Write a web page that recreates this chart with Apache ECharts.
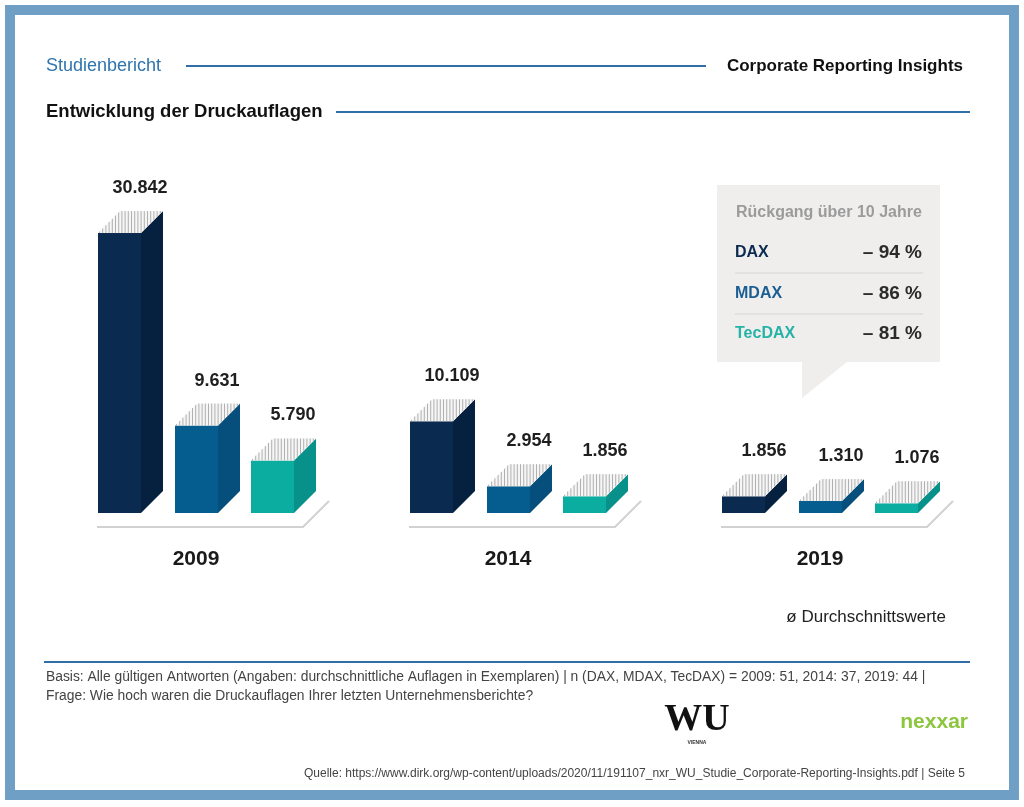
<!DOCTYPE html>
<html>
<head>
<meta charset="utf-8">
<script src="https://cdn.jsdelivr.net/npm/echarts@6/dist/echarts.min.js"></script>
<style>
html,body{margin:0;padding:0;background:#fff;}
#chart{width:1024px;height:807px;}
</style>
</head>
<body>
<div id="chart"></div>
<script>
// ---- data ----
const categories = ['2009', '2014', '2019'];
const DAX = [30842, 10109, 1856];
const MDAX = [9631, 2954, 1310];
const TecDAX = [5790, 1856, 1076];
const seriesNames = ['DAX', 'MDAX', 'TecDAX'];
const declineValues = [-94, -86, -81];
const declineTitle = 'Rückgang über 10 Jahre';

// ---- styles ----
const FONT = "'Liberation Sans', Arial, Helvetica, sans-serif";
const faceColors = ['#0b2a4f', '#055c8e', '#0aada0'];
const sideColors = ['#05213f', '#064f7c', '#08918a'];
const labelColors = ['#0b2a4f', '#1b5e93', '#25b3a6'];
const BAR_W = 43, DEPTH = 22;
const OFFSETS = [-98, -21, 55];

function fmt(v) { return String(v).replace(/\B(?=(\d{3})+(?!\d))/g, '.'); }

function makeBarRenderer(si) {
  return function (params, api) {
    const cat = api.value(0), val = api.value(1);
    const base = api.coord([cat, 0]);
    const top = api.coord([cat, val]);
    const x0 = base[0] + OFFSETS[si], x1 = x0 + BAR_W;
    const yB = base[1], yT = top[1], D = DEPTH;
    const children = [];
    children.push({ type: 'rect', shape: { x: x0, y: yT, width: BAR_W, height: yB - yT }, style: { fill: faceColors[si] } });
    children.push({ type: 'polygon', shape: { points: [[x1, yT], [x1 + D, yT - D], [x1 + D, yB - D], [x1, yB]] }, style: { fill: sideColors[si] } });
    children.push({ type: 'polygon', shape: { points: [[x0, yT], [x1, yT], [x1 + D, yT - D], [x0 + D, yT - D]] }, style: { fill: '#f6f6f6' } });
    for (let x = x0 + 1.5; x < x1 + D - 0.5; x += 3.2) {
      const yLow = x <= x1 ? yT : yT - (x - x1);
      const yHigh = x >= x0 + D ? yT - D : yT - (x - x0);
      if (yLow - yHigh > 0.6) {
        children.push({ type: 'line', shape: { x1: x, y1: yLow, x2: x, y2: yHigh }, style: { stroke: '#b0b0b0', lineWidth: 1 } });
      }
    }
    children.push({ type: 'text', style: { text: fmt(val), x: x0 + 42, y: yT - D - 23, fill: '#1f1f1f', font: 'bold 18px ' + FONT, align: 'center', textAlign: 'center', verticalAlign: 'middle', textVerticalAlign: 'middle' } });
    return { type: 'group', children: children };
  };
}

function floorRenderer(params, api) {
  const base = api.coord([api.value(0), 0]);
  const cx = base[0], y = base[1] + 14;
  return { type: 'polyline', shape: { points: [[cx - 99, y], [cx + 107, y], [cx + 133, y - 26]] }, style: { stroke: '#d2d2d2', lineWidth: 2, fill: null } };
}

const barData = [DAX, MDAX, TecDAX];
const series = [{
  type: 'custom', name: 'floor', renderItem: floorRenderer, z: 1,
  data: categories.map((c, i) => [i, 0]), encode: { x: 0, y: 1 }, silent: true
}];
barData.forEach((arr, si) => {
  series.push({
    type: 'custom', name: seriesNames[si], renderItem: makeBarRenderer(si), z: 2,
    data: arr.map((v, i) => [i, v]), encode: { x: 0, y: 1 }
  });
});

// ---- callout ----
const BX = 717, BY = 185, BW = 223, BH = 177;
const callout = [
  { type: 'polygon', shape: { points: [[BX, BY], [BX + BW, BY], [BX + BW, BY + BH], [847, BY + BH], [802, 398], [802, BY + BH], [BX, BY + BH]] }, style: { fill: '#efeeed' }, z: 0 },
  { type: 'text', x: 736, y: 213, style: { text: declineTitle, fill: '#9b9b9b', font: 'bold 16px ' + FONT, verticalAlign: 'middle', textVerticalAlign: 'middle' } }
];
const rowY = [253, 294, 334];
seriesNames.forEach((n, i) => {
  callout.push({ type: 'text', x: 735, y: rowY[i], style: { text: n, fill: labelColors[i], font: 'bold 16px ' + FONT, verticalAlign: 'middle', textVerticalAlign: 'middle' } });
  callout.push({ type: 'text', x: 922, y: rowY[i], style: { text: '– ' + Math.abs(declineValues[i]) + ' %', fill: '#2b2b2b', font: 'bold 19px ' + FONT, align: 'right', textAlign: 'right', verticalAlign: 'middle', textVerticalAlign: 'middle' } });
});
[273, 314].forEach(y => callout.push({ type: 'line', shape: { x1: 735, y1: y, x2: 923, y2: y }, style: { stroke: '#d3d3d3', lineWidth: 1.2 } }));

const graphics = [
  { type: 'rect', shape: { x: 10, y: 10, width: 1004, height: 785 }, style: { fill: '#fff', stroke: '#6f9fc4', lineWidth: 10 }, z: -10 },
  { type: 'text', x: 46, y: 66, style: { text: 'Studienbericht', fill: '#2f74ad', font: '18px ' + FONT, verticalAlign: 'middle', textVerticalAlign: 'middle' } },
  { type: 'line', shape: { x1: 186, y1: 66, x2: 706, y2: 66 }, style: { stroke: '#2f6ea6', lineWidth: 2 } },
  { type: 'text', x: 963, y: 66, style: { text: 'Corporate Reporting Insights', fill: '#111', font: 'bold 17px ' + FONT, align: 'right', textAlign: 'right', verticalAlign: 'middle', textVerticalAlign: 'middle' } },
  { type: 'text', x: 46, y: 112, style: { text: 'Entwicklung der Druckauflagen', fill: '#111', font: 'bold 18.5px ' + FONT, verticalAlign: 'middle', textVerticalAlign: 'middle' } },
  { type: 'line', shape: { x1: 336, y1: 112, x2: 970, y2: 112 }, style: { stroke: '#2f6ea6', lineWidth: 2 } },
  { type: 'text', x: 946, y: 617, style: { text: 'ø Durchschnittswerte', fill: '#222', font: '17px ' + FONT, align: 'right', textAlign: 'right', verticalAlign: 'middle', textVerticalAlign: 'middle' } },
  { type: 'line', shape: { x1: 44, y1: 662, x2: 970, y2: 662 }, style: { stroke: '#2f6ea6', lineWidth: 2 } },
  { type: 'text', x: 46, y: 677, style: { text: 'Basis: Alle gültigen Antworten (Angaben: durchschnittliche Auflagen in Exemplaren) | n (DAX, MDAX, TecDAX) = 2009: 51, 2014: 37, 2019: 44 |', fill: '#444', font: '13.85px ' + FONT, verticalAlign: 'middle', textVerticalAlign: 'middle' } },
  { type: 'text', x: 46, y: 696, style: { text: 'Frage: Wie hoch waren die Druckauflagen Ihrer letzten Unternehmensberichte?', fill: '#444', font: '13.85px ' + FONT, verticalAlign: 'middle', textVerticalAlign: 'middle' } },
  { type: 'text', x: 697, y: 720, style: { text: 'WU', fill: '#111', font: 'bold 38px "Liberation Serif", "DejaVu Serif", serif', align: 'center', textAlign: 'center', verticalAlign: 'middle', textVerticalAlign: 'middle' } },
  { type: 'text', x: 697, y: 743, style: { text: 'VIENNA', fill: '#333', font: 'bold 5px ' + FONT, align: 'center', textAlign: 'center', verticalAlign: 'middle', textVerticalAlign: 'middle' } },
  { type: 'text', x: 968, y: 722, style: { text: 'nexxar', fill: '#8cc63e', font: 'bold 21px ' + FONT, align: 'right', textAlign: 'right', verticalAlign: 'middle', textVerticalAlign: 'middle' } },
  { type: 'text', x: 965, y: 774, style: { text: 'Quelle: https://www.dirk.org/wp-content/uploads/2020/11/191107_nxr_WU_Studie_Corporate-Reporting-Insights.pdf | Seite 5', fill: '#444', font: '12px ' + FONT, align: 'right', textAlign: 'right', verticalAlign: 'middle', textVerticalAlign: 'middle' } }
].concat(callout);

const chart = echarts.init(document.getElementById('chart'), null, { renderer: 'canvas' });
chart.setOption({
  animation: false,
  backgroundColor: '#fff',
  grid: { left: 40, right: 48, top: 150, bottom: 294 },
  xAxis: {
    type: 'category', data: categories,
    axisLine: { show: false }, axisTick: { show: false }, splitLine: { show: false },
    axisLabel: { margin: 36, color: '#1a1a1a', fontWeight: 'bold', fontSize: 21, fontFamily: FONT }
  },
  yAxis: { type: 'value', min: 0, max: 40000, show: false, splitLine: { show: false } },
  graphic: { elements: graphics },
  series: series
});
</script>
</body>
</html>
